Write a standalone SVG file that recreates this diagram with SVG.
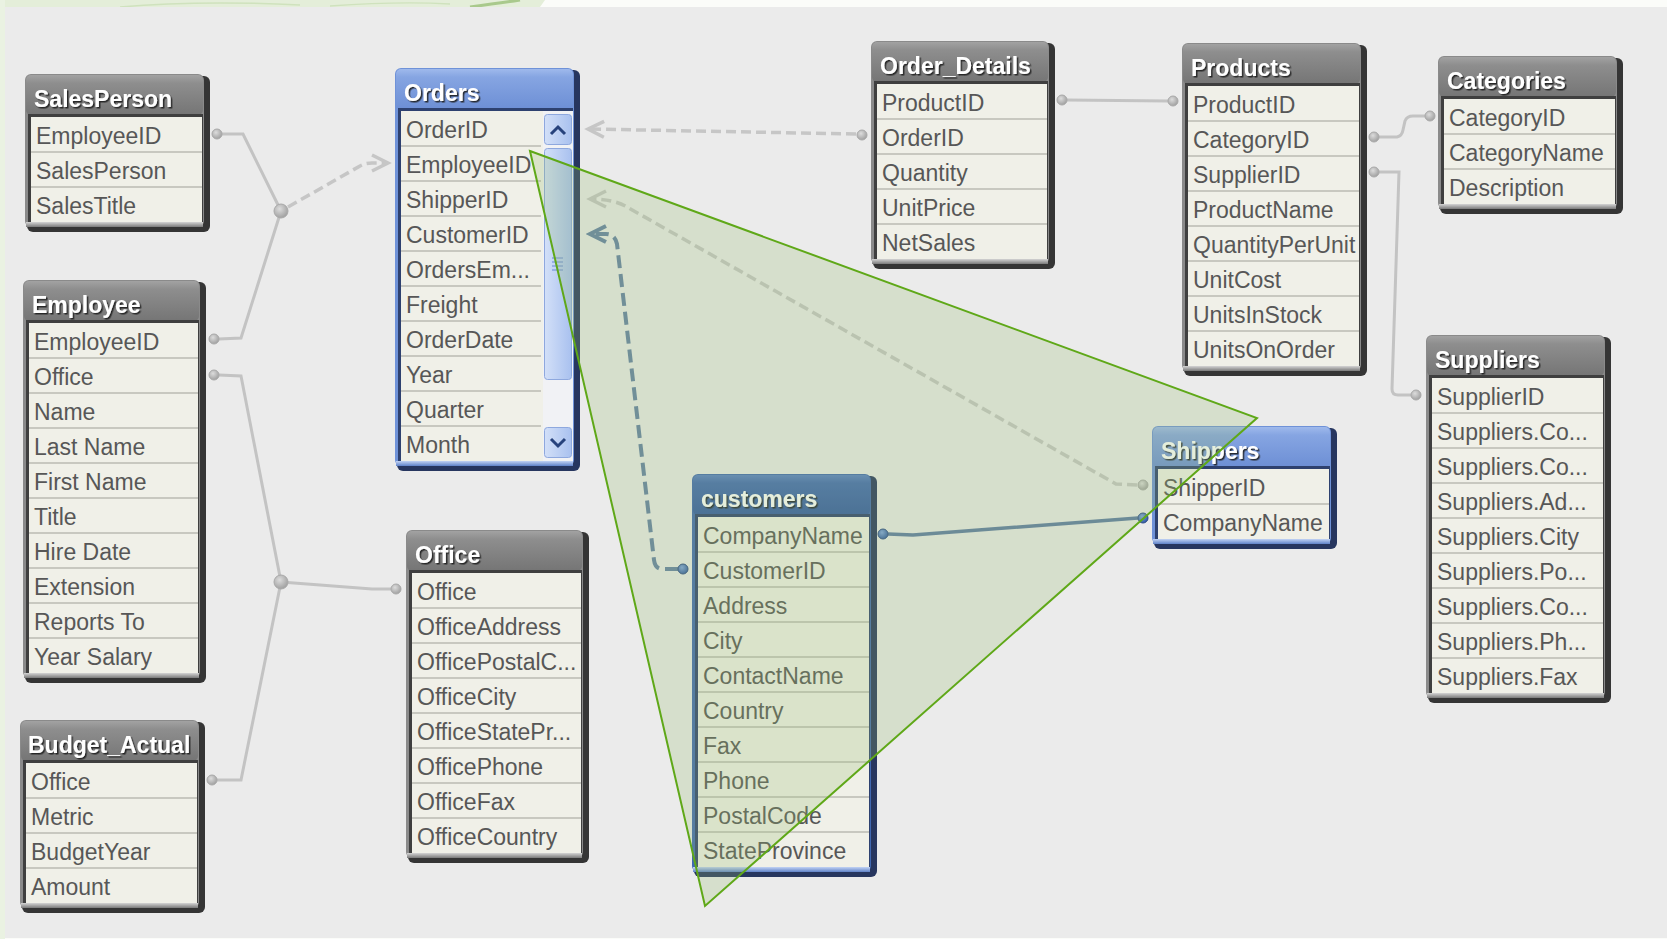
<svg xmlns="http://www.w3.org/2000/svg" width="1667" height="939" viewBox="0 0 1667 939">
<defs>
<style>
.t{font-family:'Liberation Sans',Arial,sans-serif;font-size:23px;fill:#575757}
.ttl{font-family:'Liberation Sans',Arial,sans-serif;font-size:23px;font-weight:bold;fill:#ffffff;filter:url(#ts)}
.sh{fill:#353535}
.fr{fill:#8a8a8a}
.dk{fill:#3f3f3f}
.rows{fill:#f0f0e8}
.sep{stroke:#c8c8c0;stroke-width:2}
.hdr{fill:url(#gHdr)}
.bot{fill:url(#gBot)}
.shB{fill:#27365f}
.frB{fill:#6f92d8}
.dkB{fill:#2e416f}
.hdrB{fill:url(#gHdrB)}
.botB{fill:url(#gBotB)}
.frC{fill:#4068b2}
.hdrC{fill:url(#gHdrC)}
.c{fill:none;stroke:#c3c3c3;stroke-width:3}
.cd{fill:none;stroke:#c6c6c6;stroke-width:3.5;stroke-dasharray:10 5}
.cb{fill:none;stroke:#5e7ba5;stroke-width:3.5}
.cbd{fill:none;stroke:#6580a6;stroke-width:4;stroke-dasharray:13 6}
.dot{fill:url(#gDot);stroke:#a9a9a9;stroke-width:1}
.bdot{fill:url(#gBDot);stroke:#2b4a86;stroke-width:1}
.sbtn{fill:url(#gBtn);stroke:#8ea8de;stroke-width:1}
.chev{fill:none;stroke:#27427c;stroke-width:3}
</style>
<filter id="ts" x="-10%" y="-30%" width="120%" height="160%">
<feDropShadow dx="1.5" dy="1.5" stdDeviation="0.6" flood-color="#1e1e1e" flood-opacity="0.9"/>
</filter>
<linearGradient id="gHdr" x1="0" y1="0" x2="0" y2="1">
<stop offset="0" stop-color="#a2a2a2"/><stop offset="0.2" stop-color="#8e8e8e"/><stop offset="1" stop-color="#757575"/>
</linearGradient>
<linearGradient id="gBot" x1="0" y1="0" x2="0" y2="1">
<stop offset="0" stop-color="#d4d4d4"/><stop offset="1" stop-color="#7a7a7a"/>
</linearGradient>
<linearGradient id="gHdrB" x1="0" y1="0" x2="0" y2="1">
<stop offset="0" stop-color="#9fb9ec"/><stop offset="0.2" stop-color="#86a5e2"/><stop offset="1" stop-color="#6d8fd5"/>
</linearGradient>
<linearGradient id="gBotB" x1="0" y1="0" x2="0" y2="1">
<stop offset="0" stop-color="#c2d3f4"/><stop offset="1" stop-color="#5f82c8"/>
</linearGradient>
<linearGradient id="gHdrC" x1="0" y1="0" x2="0" y2="1">
<stop offset="0" stop-color="#5a80c6"/><stop offset="0.2" stop-color="#4169b2"/><stop offset="1" stop-color="#3359a2"/>
</linearGradient>
<linearGradient id="gBtn" x1="0" y1="0" x2="1" y2="0">
<stop offset="0" stop-color="#d3e0f8"/><stop offset="1" stop-color="#a9c1ef"/>
</linearGradient>
<radialGradient id="gDot" cx="0.4" cy="0.35" r="0.7">
<stop offset="0" stop-color="#dcdcdc"/><stop offset="1" stop-color="#9c9c9c"/>
</radialGradient>
<radialGradient id="gBDot" cx="0.4" cy="0.35" r="0.7">
<stop offset="0" stop-color="#7fa3e0"/><stop offset="1" stop-color="#2d56a0"/>
</radialGradient>
<marker id="arrG" markerWidth="24" markerHeight="24" refX="0" refY="0" viewBox="-20 -12 24 24" orient="auto" markerUnits="userSpaceOnUse">
<path d="M-16,-8 L0,0 L-16,8" fill="none" stroke="#c6c6c6" stroke-width="3.5"/>
</marker>
<marker id="arrB" markerWidth="24" markerHeight="24" refX="0" refY="0" viewBox="-20 -12 24 24" orient="auto" markerUnits="userSpaceOnUse">
<path d="M-16,-8 L0,0 L-16,8" fill="none" stroke="#6580a6" stroke-width="4"/>
</marker>
</defs>

<g id="background">
<rect x="0" y="0" width="1667" height="939" fill="#fbfcf9"/>
<path d="M0,0 L545,0 L540,7 L0,7 Z" fill="#e4eed9"/>
<path d="M0,0 L5,0 L5,939 L0,939 Z" fill="#eaf2e2"/>
<path d="M470,7 Q500,3 520,0" fill="none" stroke="#a9c98c" stroke-width="3"/>
<path d="M120,7 Q200,0 300,5 M330,6 Q400,1 450,4" fill="none" stroke="#cfe2bd" stroke-width="1.5"/>
<rect x="5" y="7" width="1662" height="931" fill="#ebebeb"/>
</g>

<g id="connectors">
<path class="c" d="M222,134 L243,134 L281,211"/>
<path class="c" d="M219,339 L241,338 L281,211"/>
<path class="cd" d="M288,207 L360,166 Q365,163 372,163 L388,163" marker-end="url(#arrG)"/>
<path class="c" d="M219,375 L241,376 L281,582"/>
<path class="c" d="M281,582 L372,589 L391,589"/>
<path class="c" d="M217,780 L241,780 L281,582"/>
<path class="cd" d="M856,134 L588,129" marker-end="url(#arrG)"/>
<path class="cd" d="M1137,485 L1116,484 L627,207 Q614,199 590,199" marker-end="url(#arrG)"/>
<path class="cbd" d="M678,569 L661,569 Q655,568 654,560 L617,244 Q615,234 606,234 L590,234" marker-end="url(#arrB)"/>
<path class="cb" d="M888,534 L913,535 L1138,518"/>
<path class="c" d="M1067,100 L1168,101"/>
<path class="c" d="M1379,137 L1397,137 Q1402,136 1403,130 L1405,121 Q1407,116 1413,116 L1425,116"/>
<path class="c" d="M1379,172 L1399,172 L1392,389 Q1392,395 1398,395 L1411,395"/>
<circle class="dot" cx="217" cy="134" r="5"/>
<circle class="dot" cx="214" cy="339" r="5"/>
<circle class="dot" cx="214" cy="375" r="5"/>
<circle class="dot" cx="212" cy="780" r="5"/>
<circle class="dot" cx="396" cy="589" r="5"/>
<circle class="dot" cx="281" cy="211" r="7"/>
<circle class="dot" cx="281" cy="582" r="7"/>
<circle class="dot" cx="862" cy="135" r="5"/>
<circle class="dot" cx="1062" cy="100" r="5"/>
<circle class="dot" cx="1173" cy="101" r="5"/>
<circle class="dot" cx="1374" cy="137" r="5"/>
<circle class="dot" cx="1374" cy="172" r="5"/>
<circle class="dot" cx="1430" cy="116" r="5"/>
<circle class="dot" cx="1416" cy="395" r="5"/>
<circle class="dot" cx="1143" cy="485" r="5"/>
<circle class="bdot" cx="1143" cy="518" r="5"/>
<circle class="bdot" cx="683" cy="569" r="5"/>
<circle class="bdot" cx="883" cy="534" r="5"/>
</g>

<g id="SalesPerson">
<rect class="sh" x="27" y="76" width="183" height="156" rx="6"/>
<rect class="fr" x="25" y="74" width="179" height="153" rx="6"/>
<rect class="hdr" x="26" y="75" width="177" height="40" rx="5"/>
<rect class="dk" x="28" y="114" width="175" height="108"/>
<rect class="rows" x="31" y="117" width="171" height="105"/>
<rect class="bot" x="26" y="222" width="177" height="5"/>
<path class="sep" d="M31,152 H202 M31,187 H202"/>
<text class="ttl" x="34" y="107">SalesPerson</text>
<text class="t" x="36" y="144">EmployeeID</text>
<text class="t" x="36" y="179">SalesPerson</text>
<text class="t" x="36" y="214">SalesTitle</text>
</g>

<g id="Employee">
<rect class="sh" x="25" y="282" width="181" height="401" rx="6"/>
<rect class="fr" x="23" y="280" width="177" height="398" rx="6"/>
<rect class="hdr" x="24" y="281" width="175" height="40" rx="5"/>
<rect class="dk" x="26" y="320" width="173" height="353"/>
<rect class="rows" x="29" y="323" width="169" height="350"/>
<rect class="bot" x="24" y="673" width="175" height="5"/>
<path class="sep" d="M29,358 H198 M29,393 H198 M29,428 H198 M29,463 H198 M29,498 H198 M29,533 H198 M29,568 H198 M29,603 H198 M29,638 H198"/>
<text class="ttl" x="32" y="313">Employee</text>
<text class="t" x="34" y="350">EmployeeID</text>
<text class="t" x="34" y="385">Office</text>
<text class="t" x="34" y="420">Name</text>
<text class="t" x="34" y="455">Last Name</text>
<text class="t" x="34" y="490">First Name</text>
<text class="t" x="34" y="525">Title</text>
<text class="t" x="34" y="560">Hire Date</text>
<text class="t" x="34" y="595">Extension</text>
<text class="t" x="34" y="630">Reports To</text>
<text class="t" x="34" y="665">Year Salary</text>
</g>

<g id="Budget_Actual">
<rect class="sh" x="22" y="722" width="183" height="191" rx="6"/>
<rect class="fr" x="20" y="720" width="179" height="188" rx="6"/>
<rect class="hdr" x="21" y="721" width="177" height="40" rx="5"/>
<rect class="dk" x="23" y="760" width="175" height="143"/>
<rect class="rows" x="26" y="763" width="171" height="140"/>
<rect class="bot" x="21" y="903" width="177" height="5"/>
<path class="sep" d="M26,798 H197 M26,833 H197 M26,868 H197"/>
<text class="ttl" x="28" y="753">Budget_Actual</text>
<text class="t" x="31" y="790">Office</text>
<text class="t" x="31" y="825">Metric</text>
<text class="t" x="31" y="860">BudgetYear</text>
<text class="t" x="31" y="895">Amount</text>
</g>

<g id="Orders">
<rect class="shB" x="397" y="70" width="183" height="401" rx="6"/>
<rect class="frB" x="395" y="68" width="179" height="398" rx="6"/>
<rect class="hdrB" x="396" y="69" width="177" height="40" rx="5"/>
<rect class="dkB" x="398" y="108" width="175" height="353"/>
<rect class="rows" x="401" y="111" width="142" height="350"/>
<rect x="543" y="111" width="30" height="350" fill="#f1f2f5"/>
<rect class="botB" x="396" y="461" width="177" height="5"/>
<path class="sep" d="M401,146 H541 M401,181 H541 M401,216 H541 M401,251 H541 M401,286 H541 M401,321 H541 M401,356 H541 M401,391 H541 M401,426 H541"/>
<rect class="sbtn" x="544.5" y="114.5" width="27" height="30" rx="3"/>
<path class="chev" d="M551,134 L558,127 L565,134"/>
<rect class="sbtn" x="544.5" y="148.5" width="27" height="231" rx="3"/>
<path d="M552,258 H563 M552,262 H563 M552,266 H563 M552,270 H563" stroke="#87a3de" stroke-width="1.5"/>
<rect class="sbtn" x="544.5" y="427.5" width="27" height="30" rx="3"/>
<path class="chev" d="M551,439 L558,446 L565,439"/>
<text class="ttl" x="404" y="101">Orders</text>
<text class="t" x="406" y="138">OrderID</text>
<text class="t" x="406" y="173">EmployeeID</text>
<text class="t" x="406" y="208">ShipperID</text>
<text class="t" x="406" y="243">CustomerID</text>
<text class="t" x="406" y="278">OrdersEm...</text>
<text class="t" x="406" y="313">Freight</text>
<text class="t" x="406" y="348">OrderDate</text>
<text class="t" x="406" y="383">Year</text>
<text class="t" x="406" y="418">Quarter</text>
<text class="t" x="406" y="453">Month</text>
</g>

<g id="Order_Details">
<rect class="sh" x="873" y="43" width="182" height="226" rx="6"/>
<rect class="fr" x="871" y="41" width="178" height="223" rx="6"/>
<rect class="hdr" x="872" y="42" width="176" height="40" rx="5"/>
<rect class="dk" x="874" y="81" width="174" height="178"/>
<rect class="rows" x="877" y="84" width="170" height="175"/>
<rect class="bot" x="872" y="259" width="176" height="5"/>
<path class="sep" d="M877,119 H1047 M877,154 H1047 M877,189 H1047 M877,224 H1047"/>
<text class="ttl" x="880" y="74">Order_Details</text>
<text class="t" x="882" y="111">ProductID</text>
<text class="t" x="882" y="146">OrderID</text>
<text class="t" x="882" y="181">Quantity</text>
<text class="t" x="882" y="216">UnitPrice</text>
<text class="t" x="882" y="251">NetSales</text>
</g>

<g id="Products">
<rect class="sh" x="1184" y="45" width="183" height="331" rx="6"/>
<rect class="fr" x="1182" y="43" width="179" height="328" rx="6"/>
<rect class="hdr" x="1183" y="44" width="177" height="40" rx="5"/>
<rect class="dk" x="1185" y="83" width="175" height="283"/>
<rect class="rows" x="1188" y="86" width="171" height="280"/>
<rect class="bot" x="1183" y="366" width="177" height="5"/>
<path class="sep" d="M1188,121 H1359 M1188,156 H1359 M1188,191 H1359 M1188,226 H1359 M1188,261 H1359 M1188,296 H1359 M1188,331 H1359"/>
<text class="ttl" x="1191" y="76">Products</text>
<text class="t" x="1193" y="113">ProductID</text>
<text class="t" x="1193" y="148">CategoryID</text>
<text class="t" x="1193" y="183">SupplierID</text>
<text class="t" x="1193" y="218">ProductName</text>
<text class="t" x="1193" y="253">QuantityPerUnit</text>
<text class="t" x="1193" y="288">UnitCost</text>
<text class="t" x="1193" y="323">UnitsInStock</text>
<text class="t" x="1193" y="358">UnitsOnOrder</text>
</g>

<g id="Categories">
<rect class="sh" x="1440" y="58" width="183" height="156" rx="6"/>
<rect class="fr" x="1438" y="56" width="179" height="153" rx="6"/>
<rect class="hdr" x="1439" y="57" width="177" height="40" rx="5"/>
<rect class="dk" x="1441" y="96" width="175" height="108"/>
<rect class="rows" x="1444" y="99" width="171" height="105"/>
<rect class="bot" x="1439" y="204" width="177" height="5"/>
<path class="sep" d="M1444,134 H1615 M1444,169 H1615"/>
<text class="ttl" x="1447" y="89">Categories</text>
<text class="t" x="1449" y="126">CategoryID</text>
<text class="t" x="1449" y="161">CategoryName</text>
<text class="t" x="1449" y="196">Description</text>
</g>

<g id="Suppliers">
<rect class="sh" x="1428" y="337" width="183" height="366" rx="6"/>
<rect class="fr" x="1426" y="335" width="179" height="363" rx="6"/>
<rect class="hdr" x="1427" y="336" width="177" height="40" rx="5"/>
<rect class="dk" x="1429" y="375" width="175" height="318"/>
<rect class="rows" x="1432" y="378" width="171" height="315"/>
<rect class="bot" x="1427" y="693" width="177" height="5"/>
<path class="sep" d="M1432,413 H1603 M1432,448 H1603 M1432,483 H1603 M1432,518 H1603 M1432,553 H1603 M1432,588 H1603 M1432,623 H1603 M1432,658 H1603"/>
<text class="ttl" x="1435" y="368">Suppliers</text>
<text class="t" x="1437" y="405">SupplierID</text>
<text class="t" x="1437" y="440">Suppliers.Co...</text>
<text class="t" x="1437" y="475">Suppliers.Co...</text>
<text class="t" x="1437" y="510">Suppliers.Ad...</text>
<text class="t" x="1437" y="545">Suppliers.City</text>
<text class="t" x="1437" y="580">Suppliers.Po...</text>
<text class="t" x="1437" y="615">Suppliers.Co...</text>
<text class="t" x="1437" y="650">Suppliers.Ph...</text>
<text class="t" x="1437" y="685">Suppliers.Fax</text>
</g>

<g id="Office">
<rect class="sh" x="408" y="532" width="181" height="331" rx="6"/>
<rect class="fr" x="406" y="530" width="177" height="328" rx="6"/>
<rect class="hdr" x="407" y="531" width="175" height="40" rx="5"/>
<rect class="dk" x="409" y="570" width="173" height="283"/>
<rect class="rows" x="412" y="573" width="169" height="280"/>
<rect class="bot" x="407" y="853" width="175" height="5"/>
<path class="sep" d="M412,608 H581 M412,643 H581 M412,678 H581 M412,713 H581 M412,748 H581 M412,783 H581 M412,818 H581"/>
<text class="ttl" x="415" y="563">Office</text>
<text class="t" x="417" y="600">Office</text>
<text class="t" x="417" y="635">OfficeAddress</text>
<text class="t" x="417" y="670">OfficePostalC...</text>
<text class="t" x="417" y="705">OfficeCity</text>
<text class="t" x="417" y="740">OfficeStatePr...</text>
<text class="t" x="417" y="775">OfficePhone</text>
<text class="t" x="417" y="810">OfficeFax</text>
<text class="t" x="417" y="845">OfficeCountry</text>
</g>

<g id="customers">
<rect class="shB" x="694" y="476" width="183" height="401" rx="6"/>
<rect class="frC" x="692" y="474" width="179" height="398" rx="6"/>
<rect class="hdrC" x="693" y="475" width="177" height="40" rx="5"/>
<rect class="dkB" x="695" y="514" width="175" height="353"/>
<rect class="rows" x="698" y="517" width="171" height="350"/>
<rect class="botB" x="693" y="867" width="177" height="5"/>
<path class="sep" d="M698,552 H869 M698,587 H869 M698,622 H869 M698,657 H869 M698,692 H869 M698,727 H869 M698,762 H869 M698,797 H869 M698,832 H869"/>
<text class="ttl" x="701" y="507">customers</text>
<text class="t" x="703" y="544">CompanyName</text>
<text class="t" x="703" y="579">CustomerID</text>
<text class="t" x="703" y="614">Address</text>
<text class="t" x="703" y="649">City</text>
<text class="t" x="703" y="684">ContactName</text>
<text class="t" x="703" y="719">Country</text>
<text class="t" x="703" y="754">Fax</text>
<text class="t" x="703" y="789">Phone</text>
<text class="t" x="703" y="824">PostalCode</text>
<text class="t" x="703" y="859">StateProvince</text>
</g>

<g id="Shippers">
<rect class="shB" x="1154" y="428" width="183" height="121" rx="6"/>
<rect class="frB" x="1152" y="426" width="179" height="118" rx="6"/>
<rect class="hdrB" x="1153" y="427" width="177" height="40" rx="5"/>
<rect class="dkB" x="1155" y="466" width="175" height="73"/>
<rect class="rows" x="1158" y="469" width="171" height="70"/>
<rect class="botB" x="1153" y="539" width="177" height="5"/>
<path class="sep" d="M1158,504 H1329"/>
<text class="ttl" x="1161" y="459">Shippers</text>
<text class="t" x="1163" y="496">ShipperID</text>
<text class="t" x="1163" y="531">CompanyName</text>
</g>

<g id="highlight">
<polygon points="530,151 1257,418 705,906" fill="rgb(151,187,111)" fill-opacity="0.25" stroke="#5fa818" stroke-width="2" stroke-linejoin="miter"/>
</g>
</svg>
